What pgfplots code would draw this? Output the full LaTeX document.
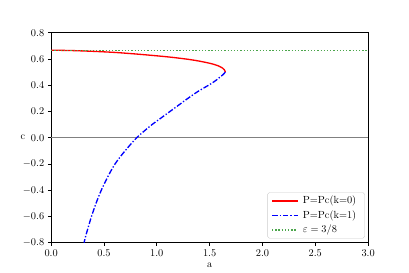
\documentclass[border=0pt,11pt]{standalone}
\usepackage{pgfplots}
\pgfplotsset{compat=1.18}
\definecolor{mgreen}{rgb}{0.30,0.65,0.30}
\begin{document}
\begin{tikzpicture}
\useasboundingbox (-0.75in,-0.44in) rectangle (5.25in,3.56in);
\begin{axis}[
  at={(0,0)}, anchor=south west,
  scale only axis, width=4.65in, height=3.08in,
  xmin=0, xmax=3, ymin=-0.8, ymax=0.8,
  xtick={0,0.5,...,3}, ytick={-0.8,-0.6,...,0.8},
  xticklabel style={/pgf/number format/.cd,fixed,fixed zerofill,precision=1},
  yticklabel style={/pgf/number format/.cd,fixed,fixed zerofill,precision=1},
  scaled ticks=false,
  tick align=outside, major tick length=3.5pt,
  tick style={black, line width=0.8pt},
  xtick pos=bottom, ytick pos=left,
  axis line style={line width=0.8pt},
  xlabel={a}, ylabel={c},
  ylabel style={rotate=-90, at={(axis description cs:-0.089,0.5)}, anchor=center},
  legend style={at={(0.99,0.02)}, anchor=south east, draw=gray!40, rounded corners=2pt, font=\normalsize, row sep=1.5pt, inner xsep=4pt, inner ysep=2pt,
    nodes={inner xsep=5pt}},
  legend cell align=left,
  legend image code/.code={\draw[#1] (0cm,0cm) -- (0.95cm,0cm);},
]
\addplot[gray, line width=0.8pt, forget plot] coordinates {(0,0) (3,0)};
\addplot[red, line width=1.4pt, smooth] coordinates {
(0.000,0.667) (0.200,0.664) (0.400,0.658) (0.600,0.650) (0.800,0.638) (1.000,0.624)
(1.150,0.612) (1.300,0.597) (1.400,0.584) (1.480,0.571) (1.540,0.559) (1.590,0.545)
(1.620,0.532) (1.638,0.519) (1.646,0.508) (1.648,0.500)};
\addlegendentry{P=Pc(k=0)}
\addplot[blue, line width=1.4pt, smooth, dash pattern=on 6pt off 2pt on 1.4pt off 2pt] coordinates {
(1.648,0.500) (1.638,0.490) (1.626,0.480) (1.595,0.460) (1.565,0.440) (1.530,0.420)
(1.490,0.400) (1.385,0.350) (1.295,0.300) (1.210,0.250) (1.125,0.200) (1.040,0.150)
(0.955,0.100) (0.880,0.050) (0.810,0.000) (0.753,-0.050) (0.700,-0.100) (0.650,-0.150)
(0.605,-0.200) (0.568,-0.250) (0.535,-0.300) (0.504,-0.350) (0.475,-0.400) (0.449,-0.450)
(0.425,-0.500) (0.403,-0.550) (0.382,-0.600) (0.363,-0.650) (0.345,-0.700) (0.327,-0.750)
(0.312,-0.800)};
\addlegendentry{P=Pc(k=1)}
\addplot[mgreen, line width=1.4pt, dash pattern=on 1.4pt off 2pt] coordinates {(0,0.6667) (3,0.6667)};
\addlegendentry{$\varepsilon=3/8$}
\end{axis}
\end{tikzpicture}
\end{document}
